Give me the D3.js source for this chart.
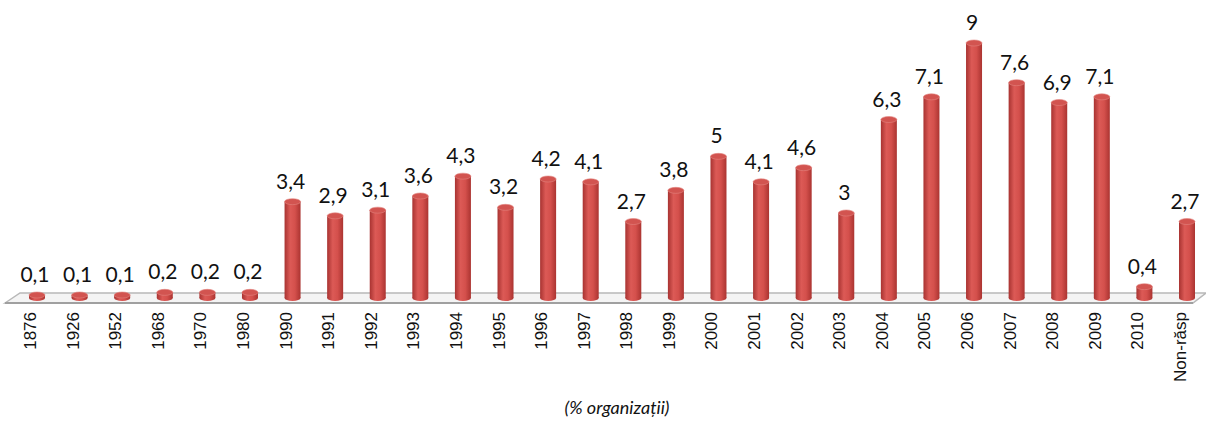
<!DOCTYPE html>
<html>
<head>
<meta charset="utf-8">
<script src="https://cdn.jsdelivr.net/npm/d3@7"></script>
<style>
body { margin: 0; background: #fff; }
svg { display: block; }
</style>
</head>
<body>
<svg width="1206" height="421"></svg>
<script>
var categories = ["1876","1926","1952","1968","1970","1980","1990","1991","1992","1993","1994","1995","1996","1997","1998","1999","2000","2001","2002","2003","2004","2005","2006","2007","2008","2009","2010","Non-răsp"];
var values = [0.1,0.1,0.1,0.2,0.2,0.2,3.4,2.9,3.1,3.6,4.3,3.2,4.2,4.1,2.7,3.8,5,4.1,4.6,3,6.3,7.1,9,7.6,6.9,7.1,0.4,2.7];
var labels = ["0,1","0,1","0,1","0,2","0,2","0,2","3,4","2,9","3,1","3,6","4,3","3,2","4,2","4,1","2,7","3,8","5","4,1","4,6","3","6,3","7,1","9","7,6","6,9","7,1","0,4","2,7"];
var caption = "(% organizații)";

var data = categories.map(function(c, i) { return {cat: c, val: values[i], lab: labels[i]}; });

var svg = d3.select("svg");
var baseY = 298;

var xScale = d3.scalePoint().domain(categories).range([37, 1187]);
var yScale = d3.scaleLinear().domain([0, 9]).range([baseY, 43]);
var barW = 16;

// gradient for cylinders
var defs = svg.append("defs");
var grad = defs.append("linearGradient").attr("id", "cyl").attr("x1", 0).attr("x2", 1).attr("y1", 0).attr("y2", 0);
grad.append("stop").attr("offset", "0%").attr("stop-color", "#a83331");
grad.append("stop").attr("offset", "35%").attr("stop-color", "#dc5a56");
grad.append("stop").attr("offset", "65%").attr("stop-color", "#d4504c");
grad.append("stop").attr("offset", "100%").attr("stop-color", "#ab3431");

// floor platform
var x0 = xScale.range()[0] - 32, x1 = xScale.range()[1] + 19;
var floor = svg.append("g");
floor.append("path")
  .attr("d", "M" + (x0) + "," + (baseY + 5) + " L" + (x0 + 15) + "," + (baseY - 5) +
    " L" + (x1) + "," + (baseY - 5) + " L" + (x1 - 13) + "," + (baseY + 5) + " Z")
  .attr("fill", "#f4f4f4")
  .attr("stroke", "#b8b8b8")
  .attr("stroke-width", 1.5);
floor.append("line")
  .attr("x1", x0).attr("x2", x1 - 13)
  .attr("y1", baseY + 5).attr("y2", baseY + 5)
  .attr("stroke", "#a0a0a0").attr("stroke-width", 2);

var g = svg.append("g");

var bars = g.selectAll(".bar")
  .data(data)
  .enter()
  .append("g")
  .attr("class", "bar");

bars.append("ellipse")
  .attr("cx", (d) => xScale(d.cat))
  .attr("cy", baseY)
  .attr("rx", barW / 2)
  .attr("ry", 3)
  .attr("fill", "url(#cyl)");

bars.append("rect")
  .attr("x", (d) => xScale(d.cat) - barW / 2)
  .attr("y", (d) => Math.min(yScale(d.val), baseY - 3))
  .attr("width", barW)
  .attr("height", (d) => baseY - Math.min(yScale(d.val), baseY - 3))
  .attr("fill", "url(#cyl)");

bars.append("ellipse")
  .attr("cx", (d) => xScale(d.cat))
  .attr("cy", (d) => Math.min(yScale(d.val), baseY - 3))
  .attr("rx", barW / 2)
  .attr("ry", 3)
  .attr("fill", "#d25450")
  .attr("stroke", "#e38480")
  .attr("stroke-width", 0.6);

// value labels
g.selectAll(".val")
  .data(data)
  .enter()
  .append("text")
  .attr("class", "val")
  .attr("x", (d) => xScale(d.cat) - 2)
  .attr("y", (d) => Math.min(yScale(d.val), baseY - 3) - 13)
  .attr("text-anchor", "middle")
  .style("font-family", "Lato, 'Open Sans', sans-serif")
  .style("font-size", "21px")
  .style("fill", "#111")
  .text((d) => d.lab);

// category labels, rotated
g.selectAll(".cat")
  .data(data)
  .enter()
  .append("text")
  .attr("class", "cat")
  .attr("transform", (d) => "translate(" + (xScale(d.cat) - 1) + "," + 312 + ") rotate(-90)")
  .attr("text-anchor", "end")
  .style("font-family", "'Liberation Sans', Arial, sans-serif")
  .style("font-size", "17px")
  .style("fill", "#111")
  .text((d) => d.cat);

svg.append("text")
  .attr("x", 617)
  .attr("y", 414)
  .attr("text-anchor", "middle")
  .style("font-family", "Lato, 'Open Sans', sans-serif")
  .style("font-style", "italic")
  .style("font-size", "18px")
  .style("fill", "#111")
  .text(caption);
</script>
</body>
</html>
